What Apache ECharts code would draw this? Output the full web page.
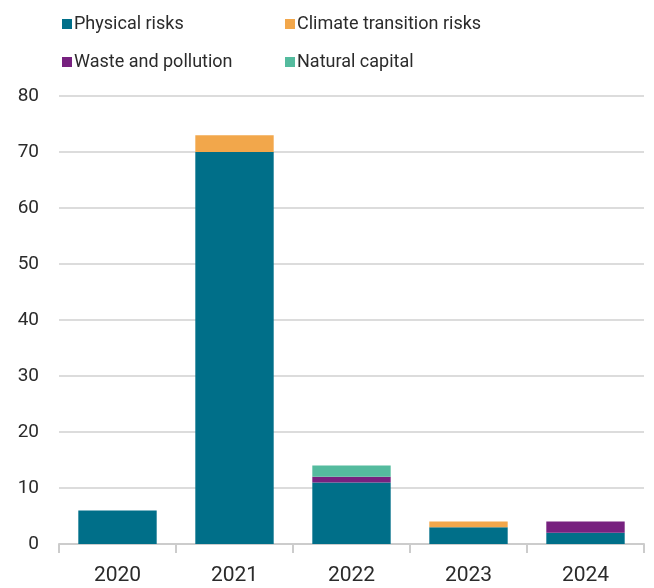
<!DOCTYPE html>
<html>
<head>
<meta charset="utf-8">
<script src="https://cdn.jsdelivr.net/npm/echarts@6/dist/echarts.min.js"></script>
<style>
  html, body { margin: 0; padding: 0; background: #fff; }
  #chart { width: 654px; height: 588px; }
</style>
</head>
<body>
<div id="chart"></div>
<script>
// Years on the category axis
const years = ['2020', '2021', '2022', '2023', '2024'];

// Stacked values per risk type
const physicalRisks = [6, 70, 11, 3, 2];
const climateTransitionRisks = [0, 3, 0, 1, 0];
const wasteAndPollution = [0, 0, 1, 0, 2];
const naturalCapital = [0, 0, 2, 0, 0];

// Y-axis range
const yMin = 0;
const yMax = 80;
const yStep = 10;

const colors = {
  physical: '#006f89',
  climate: '#f2a74b',
  waste: '#77217f',
  natural: '#54bb9e'
};

const fontFamily = 'Roboto, "Noto Sans", sans-serif';
const textColor = '#2b2b2b';

function barSeries(name, values, color) {
  return {
    name: name,
    type: 'bar',
    stack: 'total',
    data: values.map(v => (v === 0 ? null : v)),
    barWidth: '67%',
    itemStyle: { color: color },
    emphasis: { disabled: true }
  };
}

const legendText = { fontSize: 18, color: textColor, fontFamily: fontFamily, padding: [0, 0, 0, -3] };

function legendColumn(left, names) {
  return {
    orient: 'vertical',
    left: left,
    top: 10,
    itemWidth: 10,
    itemHeight: 10,
    itemGap: 20,
    icon: 'rect',
    textStyle: legendText,
    data: names
  };
}

const option = {
  animation: false,
  backgroundColor: '#ffffff',
  legend: [
    legendColumn(57, ['Physical risks', 'Waste and pollution']),
    legendColumn(280, ['Climate transition risks', 'Natural capital'])
  ],
  grid: {
    left: 59,
    right: 10,
    top: 96,
    bottom: 44,
    containLabel: false
  },
  xAxis: {
    type: 'category',
    data: years,
    boundaryGap: true,
    axisLine: { lineStyle: { color: '#cccccc', width: 2 } },
    axisTick: { show: true, length: 9, lineStyle: { color: '#cccccc', width: 2 } },
    axisLabel: { fontSize: 21, color: textColor, fontFamily: fontFamily, margin: 21 }
  },
  yAxis: {
    type: 'value',
    min: yMin,
    max: yMax,
    interval: yStep,
    axisLine: { show: false },
    axisTick: { show: false },
    splitLine: { lineStyle: { color: '#dcdcdc', width: 2 } },
    axisLabel: { fontSize: 19, color: textColor, fontFamily: fontFamily, margin: 20 }
  },
  series: [
    barSeries('Physical risks', physicalRisks, colors.physical),
    barSeries('Waste and pollution', wasteAndPollution, colors.waste),
    barSeries('Climate transition risks', climateTransitionRisks, colors.climate),
    barSeries('Natural capital', naturalCapital, colors.natural)
  ]
};

const chart = echarts.init(document.getElementById('chart'), null, { renderer: 'canvas' });
chart.setOption(option);
</script>
</body>
</html>
